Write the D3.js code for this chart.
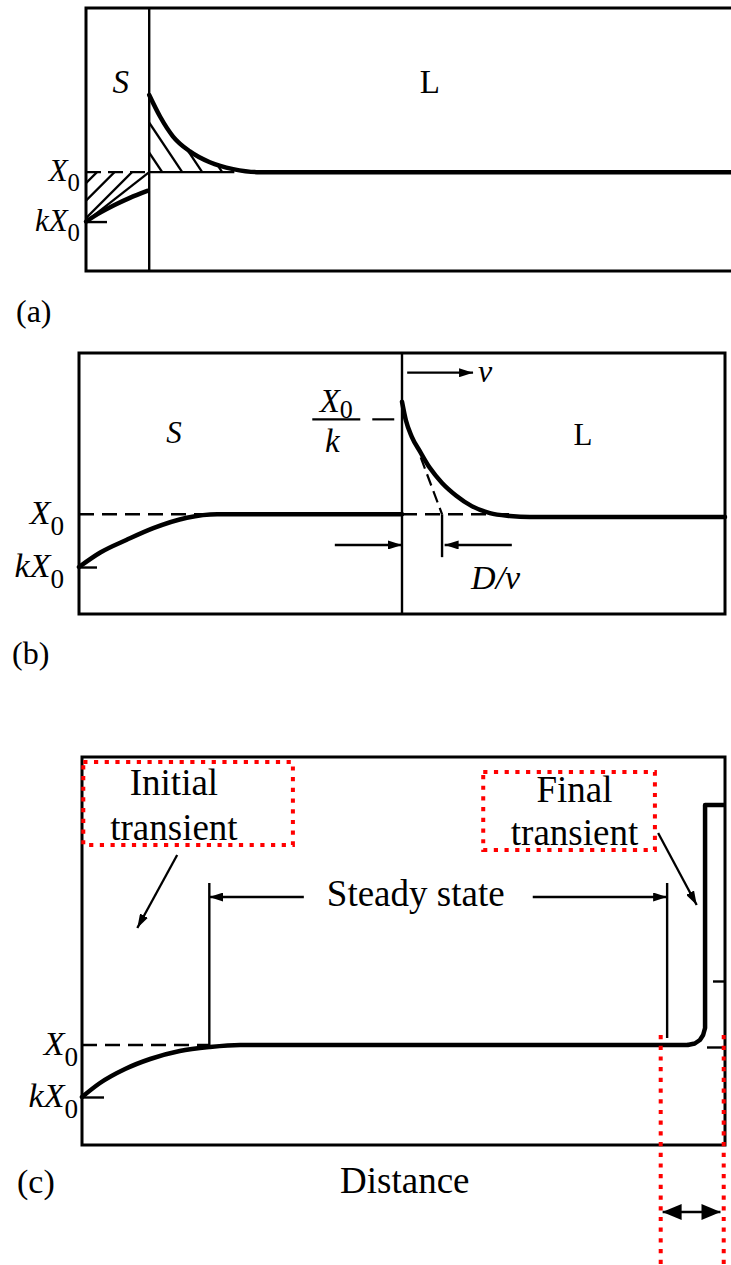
<!DOCTYPE html>
<html>
<head>
<meta charset="utf-8">
<script src="https://cdn.jsdelivr.net/npm/d3@7"></script>
<style>
  html, body { margin: 0; padding: 0; background: #fff; }
  svg { display: block; }
</style>
</head>
<body>
<svg id="fig" width="731" height="1265"></svg>
<script>
// ---------------------------------------------------------------------------
// Solute redistribution during directional solidification.
// Distance runs left to right, concentration bottom to top (X0 = 1).
// ---------------------------------------------------------------------------

// Panel (a): profiles just after freezing starts
const aInterface = 0.98;
const aLevels = [1, 0.5];                       // X0, kX0
const aSolid  = [[0,0.5],[0.22,0.59],[0.45,0.67],[0.68,0.74],[0.95,0.81]];
const aLiquid = [[0.98,1.78],[1.15,1.56],[1.35,1.36],[1.61,1.21],[1.92,1.10],
                 [2.28,1.03],[2.65,1.0],[10,1.0]];

// Panel (b): steady state ahead of an interface moving at speed v
const bInterface = 5.0;
const bLevels = [1, 0.545, 1.818];              // X0, kX0, X0/k
const bSolid  = [[0,0.545],[0.33,0.67],[0.74,0.78],[1.15,0.88],[1.67,0.97],
                 [2.14,1.0],[2.34,1.0],[5.0,1.0]];
const bLiquid = [[5.0,1.97],[5.06,1.81],[5.15,1.67],[5.28,1.54],[5.43,1.40],
                 [5.62,1.27],[5.84,1.16],[6.08,1.07],[6.36,1.01],[6.67,0.985],
                 [6.98,0.976],[10,0.976]];
const bTangent = [[5.29,1.49],[5.62,1.0]];
const bDiffusionLength = [5.0, 5.62];           // interface, tangent intercept (D/v)

// Panel (c): the whole bar after freezing
const cLevels  = [1, 0.48];                     // X0, kX0
const cProfile = [[0,0.48],[0.28,0.62],[0.67,0.76],[1.06,0.86],[1.52,0.94],
                  [1.99,0.98],[2.46,1.0],[9.42,1.0]];
const cFinal   = [[9.42,1.0],[9.53,1.015],[9.61,1.05],[9.66,1.10],[9.69,1.17],
                  [9.69,3.40],[10,3.40]];
const cSteady  = [1.98, 9.10];                  // bounds of the steady-state zone
const cRightTicks = [1.64, 0.98];
const cFinalZone  = [9.0, 9.98];

// Text
const panelTags  = ["(a)", "(b)", "(c)"];
const phaseNames = [["Initial", "transient"], ["Final", "transient"]];
const steadyName = "Steady state";
const axisName   = "Distance";
const phaseLetters = ["S", "L"];

// ---------------------------------------------------------------------------
const FONT = "'Liberation Serif', 'Times New Roman', serif";
const RED = "#ff0000";
const svg = d3.select("#fig");
const defs = svg.append("defs");

function arrowMarker(id, len, wid) {
  defs.append("marker")
    .attr("id", id)
    .attr("markerUnits", "userSpaceOnUse")
    .attr("viewBox", `0 0 ${len} ${wid}`)
    .attr("refX", len).attr("refY", wid / 2)
    .attr("markerWidth", len).attr("markerHeight", wid)
    .attr("orient", "auto-start-reverse")
    .append("path")
    .attr("d", `M0,0L${len},${wid / 2}L0,${wid}Z`)
    .attr("fill", "#000");
}
arrowMarker("head", 14, 9);
arrowMarker("headBig", 19, 16);

function trace(g, pts, x, y, o = {}) {
  const gen = d3.line().x(d => x(d[0])).y(d => y(d[1])).curve(o.curve || d3.curveLinear);
  const p = g.append("path")
    .attr("d", gen(pts))
    .attr("fill", "none")
    .attr("stroke", o.color || "#000")
    .attr("stroke-width", o.w || 2.3)
    .attr("stroke-linecap", o.cap || "butt")
    .attr("stroke-linejoin", "round");
  if (o.dash) p.attr("stroke-dasharray", o.dash);
  if (o.start) p.attr("marker-start", `url(#${o.start})`);
  if (o.end) p.attr("marker-end", `url(#${o.end})`);
  return p;
}

function label(g, x, y, txt, o = {}) {
  return g.append("text")
    .attr("x", x).attr("y", y)
    .attr("text-anchor", o.anchor || "middle")
    .attr("font-family", FONT)
    .attr("font-size", o.size || 30)
    .attr("font-style", o.italic ? "italic" : "normal")
    .attr("fill", "#000")
    .text(txt);
}

// "X0" / "kX0" labels with an upright subscript zero
function levelLabel(g, xRight, yLevel, prefix, fs) {
  const t = g.append("text")
    .attr("x", xRight).attr("y", yLevel + fs * 0.3)
    .attr("text-anchor", "end")
    .attr("font-family", FONT).attr("font-size", fs).attr("fill", "#000");
  t.append("tspan").attr("font-style", "italic").text(prefix + "X");
  t.append("tspan").attr("font-size", fs * 0.8).attr("dy", fs * 0.32).text("0");
}

function innerTick(g, scale, xPos, values, size, side) {
  const axis = (side === "right" ? d3.axisRight(scale) : d3.axisLeft(scale))
    .tickValues(values).tickSize(size).tickFormat("");
  const a = g.append("g").attr("transform", `translate(${xPos},0)`).call(axis);
  a.select(".domain").remove();
  a.selectAll(".tick line").attr("stroke", "#000").attr("stroke-width", 2.4);
}

// ---------------------------------------------------------------------------
// (a)
{
  const g = svg.append("g");
  const x = d3.scaleLinear().domain([0, 10]).range([86, 731]);
  const y = d3.scaleLinear().domain([0, 2.66]).range([271, 8]);
  const [X0, kX0] = aLevels;

  // frame, open on the right
  g.append("path")
    .attr("d", `M${x(10) + 4},${y(2.66)}H${x(0)}V${y(0)}H${x(10) + 4}`)
    .attr("fill", "none").attr("stroke", "#000").attr("stroke-width", 3);

  // hatched area in the solid (between X0 and the straight rise)
  const tri = [[0, X0], [0, kX0], [aInterface, X0]];
  defs.append("clipPath").attr("id", "clipS").append("path")
    .attr("d", d3.line().x(d => x(d[0])).y(d => y(d[1]))(tri) + "Z");
  const hs = g.append("g").attr("clip-path", "url(#clipS)");
  for (let c = x(0) + y(X0) + 11; c < x(aInterface) + y(X0); c += 17.5) {
    hs.append("line").attr("x1", c - 300).attr("y1", 300).attr("x2", c).attr("y2", 0)
      .attr("stroke", "#000").attr("stroke-width", 2.3);
  }
  trace(g, [tri[1], tri[2]], x, y, { w: 2.3 });

  // hatched area in the liquid (under the enriched layer)
  const enriched = aLiquid.filter(d => d[0] <= 2.65);
  defs.append("clipPath").attr("id", "clipL").append("path")
    .attr("d", d3.area().x(d => x(d[0])).y0(y(X0)).y1(d => y(d[1])).curve(d3.curveMonotoneX)(enriched));
  const hl = g.append("g").attr("clip-path", "url(#clipL)");
  for (let xe = x(aInterface) + 13; xe < x(2.5); xe += 20) {
    hl.append("line").attr("x1", xe - 200 / 1.5).attr("y1", y(X0) - 200).attr("x2", xe).attr("y2", y(X0))
      .attr("stroke", "#000").attr("stroke-width", 2.3);
  }
  trace(g, [[aInterface, X0], [2.3, X0]], x, y, { w: 2.3 });
  trace(g, [[0, X0], [aInterface, X0]], x, y, { w: 2.4, dash: "15,7" });

  // interface
  trace(g, [[aInterface, 0], [aInterface, 2.66]], x, y, { w: 2.4 });

  // profiles
  trace(g, aSolid, x, y, { w: 4.5, curve: d3.curveMonotoneX, cap: "round" });
  trace(g, aLiquid, x, y, { w: 4.5, curve: d3.curveMonotoneX, cap: "round" });

  innerTick(g, y, x(0), [kX0], 21, "right");
  levelLabel(g, x(0) - 6, y(X0), "", 31);
  levelLabel(g, x(0) - 6, y(kX0), "k", 31);

  label(g, x(0.54), y(1.8), phaseLetters[0], { italic: true, size: 33 });
  label(g, x(5.33), y(1.8), phaseLetters[1], { size: 33 });
  label(g, 16, 322, panelTags[0], { anchor: "start", size: 32 });
}

// ---------------------------------------------------------------------------
// (b)
{
  const g = svg.append("g");
  const x = d3.scaleLinear().domain([0, 10]).range([79, 725]);
  const y = d3.scaleLinear().domain([0.14, 2.39]).range([614, 353]);
  const [X0, kX0, X0k] = bLevels;

  g.append("rect")
    .attr("x", x(0)).attr("y", y(2.39)).attr("width", x(10) - x(0)).attr("height", y(0.14) - y(2.39))
    .attr("fill", "none").attr("stroke", "#000").attr("stroke-width", 3);

  trace(g, [[bInterface, 0.14], [bInterface, 2.39]], x, y, { w: 2.4 });

  trace(g, [[0, X0], [2.2, X0]], x, y, { w: 2.4, dash: "15,8" });
  trace(g, [[bInterface, X0], [6.67, X0]], x, y, { w: 2.4, dash: "15,8" });
  trace(g, bTangent, x, y, { w: 2.2, dash: "12,6" });

  trace(g, bSolid, x, y, { w: 4.5, curve: d3.curveMonotoneX, cap: "round" });
  trace(g, bLiquid, x, y, { w: 4.5, curve: d3.curveMonotoneX, cap: "round" });

  // X0/k marker next to the interface
  trace(g, [[4.54, X0k], [4.88, X0k]], x, y, { w: 2.2 });
  const fx = x(4.54) - 36;
  const fr = g.append("text").attr("x", fx).attr("y", y(X0k) - 7).attr("text-anchor", "middle")
    .attr("font-family", FONT).attr("font-size", 33).attr("fill", "#000");
  fr.append("tspan").attr("font-style", "italic").text("X");
  fr.append("tspan").attr("font-size", 26).attr("dy", 6).text("0");
  g.append("line").attr("x1", fx - 24).attr("x2", fx + 24).attr("y1", y(X0k)).attr("y2", y(X0k))
    .attr("stroke", "#000").attr("stroke-width", 2.2);
  label(g, fx - 4, y(X0k) + 33, "k", { italic: true, size: 33 });

  // growth direction
  trace(g, [[5.08, 2.22], [6.10, 2.22]], x, y, { w: 2.3, end: "head" });
  label(g, x(6.10) + 5, y(2.22) + 9, "ν", { anchor: "start", italic: true, size: 32 });

  // characteristic distance D/v
  const [d0, d1] = bDiffusionLength;
  trace(g, [[d1, X0], [d1, 0.63]], x, y, { w: 2.4 });
  trace(g, [[3.96, 0.735], [d0, 0.735]], x, y, { w: 2.3, end: "head" });
  trace(g, [[6.70, 0.735], [d1 + 0.04, 0.735]], x, y, { w: 2.3, end: "head" });
  label(g, x(6.45), y(0.355), "D/ν", { italic: true, size: 34 });

  innerTick(g, y, x(0), [kX0], 18, "right");
  levelLabel(g, x(0) - 15, y(X0), "", 34);
  levelLabel(g, x(0) - 15, y(kX0), "k", 34);

  label(g, x(1.47), y(1.61), phaseLetters[0], { italic: true, size: 31 });
  label(g, x(7.8), y(1.597), phaseLetters[1], { size: 31 });
  label(g, 12, 664, panelTags[1], { anchor: "start", size: 32 });
}

// ---------------------------------------------------------------------------
// (c)
{
  const g = svg.append("g");
  const x = d3.scaleLinear().domain([0, 10]).range([82, 725]);
  const y = d3.scaleLinear().domain([0, 3.88]).range([1145, 757]);
  const [X0, kX0] = cLevels;

  g.append("rect")
    .attr("x", x(0)).attr("y", y(3.88)).attr("width", x(10) - x(0)).attr("height", y(0) - y(3.88))
    .attr("fill", "none").attr("stroke", "#000").attr("stroke-width", 3);

  trace(g, [[0, X0], [cSteady[0], X0]], x, y, { w: 2.4, dash: "15,8" });
  trace(g, cProfile, x, y, { w: 4.5, curve: d3.curveMonotoneX, cap: "round" });
  trace(g, cFinal, x, y, { w: 4.5 });

  // steady-state zone
  trace(g, [[cSteady[0], 2.62], [cSteady[0], X0]], x, y, { w: 2.4 });
  trace(g, [[cSteady[1], 2.62], [cSteady[1], 1.07]], x, y, { w: 2.4 });
  trace(g, [[3.45, 2.48], [cSteady[0], 2.48]], x, y, { w: 2.3, end: "head" });
  trace(g, [[7.01, 2.48], [cSteady[1], 2.48]], x, y, { w: 2.3, end: "head" });
  label(g, x(5.19), y(2.39), steadyName, { size: 37 });

  trace(g, [[1.48, 2.90], [0.86, 2.17]], x, y, { w: 2.3, end: "head" });
  trace(g, [[8.96, 3.12], [9.56, 2.40]], x, y, { w: 2.3, end: "head" });

  innerTick(g, y, x(0), [kX0], 22, "right");
  innerTick(g, y, x(10), [cRightTicks[0]], 12, "left");
  innerTick(g, y, x(10), [cRightTicks[1]], 18, "left");
  levelLabel(g, x(0) - 4, y(X0), "", 34);
  levelLabel(g, x(0) - 4, y(kX0), "k", 34);

  // phase boxes
  const boxes = [[0.02, 3.83, 3.28, 3.0], [6.24, 3.73, 8.91, 2.95]];
  const centers = [[1.43, 3.5, 3.05], [7.66, 3.43, 3.0]];
  boxes.forEach((b, i) => {
    g.append("rect")
      .attr("x", x(b[0])).attr("y", y(b[1]))
      .attr("width", x(b[2]) - x(b[0])).attr("height", y(b[3]) - y(b[1]))
      .attr("fill", "none").attr("stroke", RED).attr("stroke-width", 4)
      .attr("stroke-dasharray", "4.2,6.5");
    const [cx, l1, l2] = centers[i];
    label(g, x(cx), y(l1), phaseNames[i][0], { size: 37 });
    label(g, x(cx), y(l2), phaseNames[i][1], { size: 37 });
  });

  // extent of the final transient
  cFinalZone.forEach(v => {
    trace(g, [[v, 1.10], [v, -1.25]], x, y, { w: 4, color: RED, dash: "4.2,6.5" });
  });
  trace(g, [[cFinalZone[0] + 0.03, -0.67], [cFinalZone[1] - 0.05, -0.67]], x, y,
        { w: 2.6, start: "headBig", end: "headBig" });

  label(g, x(5.02), 1193, axisName, { size: 37 });
  label(g, 17, 1193, panelTags[2], { anchor: "start", size: 34 });
}
</script>
</body>
</html>
